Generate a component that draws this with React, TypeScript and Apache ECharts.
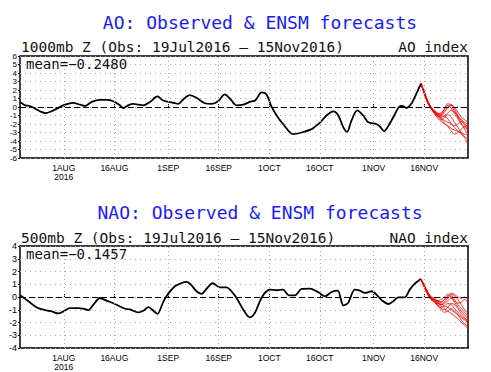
import React, { useEffect, useRef } from "react";
import * as echarts from "echarts";

// x = days since 19 Jul 2016
const TICK_DAYS = [13, 28, 44, 59, 74, 89, 105, 120];
const TICK_LABELS = ["1AUG\n2016", "16AUG", "1SEP", "16SEP", "1OCT", "16OCT", "1NOV", "16NOV"];
const X_MAX = 133;

const AO_OBS: number[][] = [
  [0, 0.6], [1.5, 0.2], [3, 0.12], [4.5, -0.2], [5.9, -0.5], [7.6, -0.72], [9.4, -0.5], [11.4, -0.1],
  [13.4, 0.28], [15.8, 0.48], [17.8, 0.28], [19.3, 0.12], [21.3, 0.6], [23.7, 0.84], [25.7, 0.84],
  [27.7, 0.68], [29.4, 0.28], [30.7, -0.12], [32.1, 0.2], [33.6, 0.36], [35.1, 0.28], [36.6, 0.2],
  [38.6, 0.6], [40.8, 1.24], [42.5, 0.76], [44.2, 0.6], [45.5, 0.5], [47, 0.36], [48.5, 0.92],
  [50.4, 1.4], [52.4, 1.08], [54.9, 0.44], [56.9, 0.36], [58.8, 0.68], [60.8, 1.48], [62.3, 1.0],
  [64.3, 0.2], [66.3, 0.28], [68.2, 0.6], [69.9, 0.8], [71.7, 1.72], [73.2, 1.48], [74.5, 0.2],
  [76.2, -1.0], [78.1, -2.0], [81.1, -3.2], [83.6, -3.0], [86.6, -2.6], [87.8, -2.25], [89, -1.88],
  [91, -1.0], [93, -0.52], [94.5, -1.0], [96, -2.4], [97.1, -2.92], [98.4, -1.6], [100.1, -0.4],
  [101.9, -1.0], [103.4, -1.8], [105.8, -2.0], [106.8, -2.28], [108.1, -2.84], [109.5, -2.12],
  [111.1, -1.0], [112.5, 0.0], [113.5, 0.12], [114.7, -0.12], [116.2, 0.4], [117.7, 1.6], [119, 2.7],
];

const NAO_OBS: number[][] = [
  [0, 0.15], [2.5, -0.34], [5, -0.82], [7.4, -1.03], [9.4, -1.13], [11.4, -1.29], [12.9, -1.13],
  [14.8, -0.87], [17.3, -0.87], [19.3, -0.95], [20.3, -1.03], [21.8, -0.6], [23.7, -0.08],
  [25.7, -0.29], [28.2, -0.55], [31.2, -0.92], [32.6, -0.97], [35.1, -1.21], [36.6, -1.08],
  [38.1, -0.79], [39.6, -1.08], [40.8, -1.32], [42.5, -0.4], [44, 0.25], [46, 0.84], [48, 1.1],
  [49.5, 1.18], [50.9, 0.92], [52.4, 0.45], [53.9, 0.24], [55.4, 0.66], [57.2, 1.08], [59.3, 0.76],
  [61.3, 0.76], [62.8, 0.45], [64.3, -0.08], [66.3, -1.0], [68.2, -1.6], [69.7, -1.26], [71.2, -0.34],
  [72.7, 0.32], [74.2, 0.58], [76.2, 0.53], [78.1, 0.58], [79.8, 0.13], [81.6, 0.13], [83.6, 0.63],
  [86.1, 0.66], [88.7, 0.35], [90.5, 0.05], [92.5, 0.39], [94.3, 0.5], [96, -0.66], [97.4, -0.47],
  [99.4, 0.58], [100.9, 0.5], [102.4, 0.32], [104.4, 0.45], [106.3, 0.05], [107.8, -0.34],
  [109.3, -0.55], [110.8, -0.34], [112.3, -0.03], [114.2, -0.03], [115.7, 0.58], [117.2, 1.05], [119, 1.42],
];

const FCST_DAYS = [119, 120, 121, 122, 123, 124, 125, 126, 127, 128, 129, 130, 131, 132, 133];

const AO_MEMBERS: number[][] = [
  [2.8, 1.8, 0.8, 0.0, -0.5, -0.8, -1.0, -0.6, 0.0, 0.3, -0.2, -1.0, -1.5, -1.8, -2.0],
  [2.8, 1.7, 0.6, -0.1, -0.6, -1.0, -0.8, -0.3, 0.2, -0.1, -0.8, -1.4, -2.0, -2.4, -2.6],
  [2.8, 1.6, 0.5, -0.2, -0.7, -1.2, -1.5, -1.3, -0.9, -1.2, -1.8, -2.4, -3.0, -3.6, -4.4],
  [2.8, 1.8, 0.7, -0.1, -0.5, -0.9, -1.3, -1.6, -1.8, -2.0, -2.4, -2.8, -3.2, -3.5, -3.8],
  [2.8, 1.7, 0.6, 0.0, -0.4, -0.7, -0.9, -0.5, -0.1, 0.2, 0.0, -0.6, -1.2, -1.5, -1.8],
  [2.8, 1.6, 0.6, -0.2, -0.8, -1.3, -1.7, -2.0, -2.2, -2.5, -2.7, -2.9, -3.0, -3.2, -3.3],
  [2.8, 1.7, 0.7, 0.0, -0.5, -0.9, -1.1, -1.0, -0.7, -0.4, -0.6, -1.1, -1.6, -2.1, -2.8],
  [2.8, 1.8, 0.7, -0.1, -0.6, -1.0, -1.4, -1.9, -2.3, -2.8, -3.2, -3.0, -2.6, -2.3, -2.2],
  [2.8, 1.6, 0.5, -0.2, -0.6, -1.0, -1.2, -1.1, -1.4, -1.9, -2.2, -2.0, -1.7, -2.0, -2.4],
  [2.8, 1.7, 0.6, -0.1, -0.5, -0.8, -0.7, -0.2, 0.4, 0.2, -0.5, -1.2, -1.9, -2.6, -3.2],
];

const NAO_MEMBERS: number[][] = [
  [1.42, 0.9, 0.4, 0.0, -0.2, -0.3, -0.4, -0.2, 0.1, 0.3, 0.2, 0.0, -0.1, 0.0, -0.2],
  [1.42, 0.8, 0.3, -0.1, -0.3, -0.5, -0.6, -0.5, -0.3, -0.1, -0.3, -0.6, -0.9, -1.2, -1.5],
  [1.42, 0.9, 0.3, -0.1, -0.2, -0.4, -0.7, -0.9, -1.1, -1.3, -1.5, -1.7, -2.0, -2.2, -2.5],
  [1.42, 0.8, 0.2, -0.2, -0.3, -0.5, -0.4, -0.2, 0.0, 0.2, 0.1, -0.2, -0.6, -1.0, -1.3],
  [1.42, 0.9, 0.4, 0.0, -0.1, -0.3, -0.5, -0.7, -0.8, -1.0, -1.2, -1.4, -1.6, -1.8, -2.0],
  [1.42, 0.8, 0.3, -0.1, -0.3, -0.6, -0.8, -0.7, -0.5, -0.6, -0.9, -1.2, -1.5, -1.7, -1.8],
  [1.42, 0.9, 0.3, 0.0, -0.2, -0.4, -0.6, -0.4, -0.1, 0.1, -0.2, -0.5, -0.4, -0.2, -0.4],
  [1.42, 0.8, 0.3, -0.1, -0.4, -0.7, -1.0, -1.2, -1.1, -0.9, -1.1, -1.4, -1.8, -2.1, -2.3],
  [1.42, 0.9, 0.4, 0.0, -0.2, -0.3, -0.2, 0.0, 0.2, 0.0, -0.4, -0.8, -1.1, -1.4, -1.7],
  [1.42, 0.8, 0.2, -0.2, -0.4, -0.6, -0.9, -1.0, -0.8, -0.5, -0.6, -0.9, -1.3, -1.6, -2.1],
];

const AO_MEAN = "mean=−0.2480";
const NAO_MEAN = "mean=−0.1457";

const MONO = "DejaVu Sans Mono";
const SANS = "Liberation Sans";

export default function App() {
  const ref = useRef<HTMLDivElement>(null);
  useEffect(() => {
    if (!ref.current) return;
    const chart = echarts.init(ref.current, null, { renderer: "svg" });

    const labelOf = (v: number) => {
      const i = TICK_DAYS.indexOf(Math.round(v));
      return i >= 0 ? TICK_LABELS[i] : "";
    };

    const mkX = (gi: number) => ({
      type: "value",
      gridIndex: gi,
      min: 0,
      max: X_MAX,
      axisLine: { show: false },
      splitLine: { show: false },
      axisTick: { show: true, inside: true, length: 3, customValues: TICK_DAYS, lineStyle: { color: "#000" } },
      axisLabel: {
        customValues: TICK_DAYS,
        formatter: labelOf,
        fontSize: 8.5,
        fontFamily: SANS,
        color: "#000",
        margin: 5,
        lineHeight: 9,
      },
    });
    const mkY = (gi: number, lim: number, fs: number) => ({
      type: "value",
      gridIndex: gi,
      min: -lim,
      max: lim,
      interval: 1,
      axisLine: { show: false },
      axisTick: { show: true, length: 2, lineStyle: { color: "#000" } },
      axisLabel: { fontSize: fs, fontFamily: SANS, color: "#000", margin: 3 },
      splitLine: { show: true, lineStyle: { color: "#aaa", type: [1, 4], width: 1 } },
    });

    const refLines = {
      silent: true,
      symbol: ["none", "none"],
      label: { show: false },
      animation: false,
      data: [
        ...TICK_DAYS.map((d) => ({ xAxis: d, lineStyle: { color: "#aaa", type: [1, 3], width: 1 } })),
        { yAxis: 0, lineStyle: { color: "#000", type: [6, 3], width: 1 } },
      ],
    };

    const series: any[] = [];
    const addPanel = (gi: number, obs: number[][], members: number[][]) => {
      members.forEach((m) => {
        series.push({
          type: "line",
          xAxisIndex: gi,
          yAxisIndex: gi,
          data: FCST_DAYS.map((d, i) => [d, m[i]]),
          smooth: 0.3,
          showSymbol: false,
          lineStyle: { color: "#ff0000", width: 0.8 },
          z: 3,
        });
      });
      series.push({
        type: "line",
        xAxisIndex: gi,
        yAxisIndex: gi,
        data: obs,
        smooth: 0.3,
        showSymbol: false,
        lineStyle: { color: "#000", width: 1.8 },
        markLine: refLines,
        z: 4,
      });
    };
    addPanel(0, AO_OBS, AO_MEMBERS);
    addPanel(1, NAO_OBS, NAO_MEMBERS);

    const txt = (text: string, x: number, y: number, size: number, align: string, fill: string, font = MONO) => ({
      type: "text",
      x,
      y,
      style: { text, fontSize: size, fontFamily: font, fill, align, verticalAlign: "middle" },
      z: 10,
    });

    chart.setOption({
      animation: false,
      backgroundColor: "#fff",
      grid: [
        { left: 20, top: 56, width: 448, height: 102, show: true, borderColor: "#000", borderWidth: 1.5, containLabel: false },
        { left: 20, top: 246, width: 448, height: 102, show: true, borderColor: "#000", borderWidth: 1.5, containLabel: false },
      ],
      xAxis: [mkX(0), mkX(1)],
      yAxis: [mkY(0, 6, 8), mkY(1, 4, 9)],
      series,
      graphic: [
        txt("AO: Observed & ENSM forecasts", 260, 22, 18, "center", "#1a1aff"),
        txt("1000mb Z (Obs: 19Jul2016 – 15Nov2016)", 21, 47, 14.5, "left", "#111"),
        txt("AO index", 468, 47, 14.5, "right", "#111"),
        txt(AO_MEAN, 26, 64, 14, "left", "#111"),
        txt("NAO: Observed & ENSM forecasts", 260, 212, 18, "center", "#1a1aff"),
        txt("500mb Z (Obs: 19Jul2016 – 15Nov2016)", 21, 237.5, 14.5, "left", "#111"),
        txt("NAO index", 468, 237.5, 14.5, "right", "#111"),
        txt(NAO_MEAN, 26, 254, 14, "left", "#111"),
      ],
    });
    return () => chart.dispose();
  }, []);
  return <div ref={ref} style={{ position: "absolute", left: 0, top: 0, width: 491, height: 372 }} />;
}
